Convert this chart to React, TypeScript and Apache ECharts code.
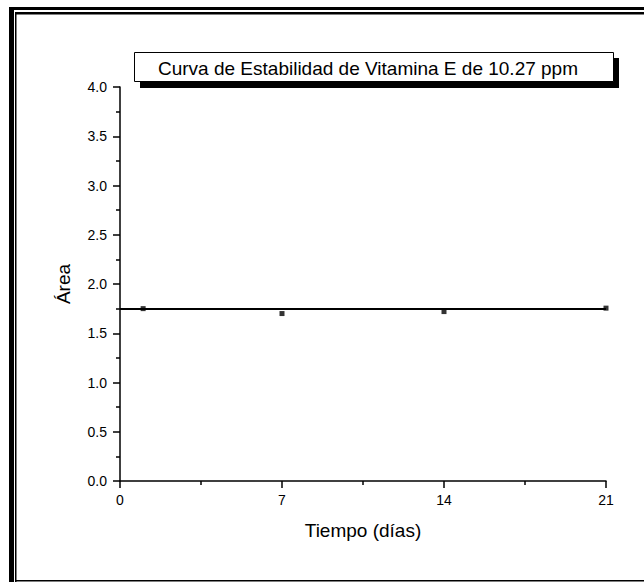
import React, { useEffect, useRef } from "react";
import * as echarts from "echarts";

const titleText = "Curva de Estabilidad de Vitamina E de 10.27 ppm";
const xAxisName = "Tiempo (días)";
const yAxisName = "Área";
const days = [1, 7, 14, 21];
const area = [1.75, 1.7, 1.72, 1.755];
const fitDays = [0, 21];
const fitArea = [1.745, 1.745];

const FONT = "'Liberation Sans', Arial, sans-serif";

export default function App() {
  const ref = useRef<HTMLDivElement>(null);
  useEffect(() => {
    if (!ref.current) return;
    const chart = echarts.init(ref.current, undefined, { renderer: "svg" });
    const option = {
      animation: false,
      backgroundColor: "#ffffff",
      textStyle: { fontFamily: FONT },
      grid: { left: 120, top: 87, width: 486, height: 394, containLabel: false },
      xAxis: {
        type: "value",
        min: 0,
        max: 21,
        interval: 7,
        name: xAxisName,
        nameLocation: "middle",
        nameGap: 40,
        nameTextStyle: { fontSize: 19, color: "#000", fontFamily: FONT },
        axisLine: { show: true, onZero: false, lineStyle: { color: "#000", width: 1.5 } },
        axisTick: { show: true, inside: false, length: 7, lineStyle: { color: "#000", width: 1.5 } },
        minorTick: { show: true, splitNumber: 2, length: 4, lineStyle: { color: "#000", width: 1.5 } },
        axisLabel: { fontSize: 14, color: "#000", margin: 12, fontFamily: FONT },
        splitLine: { show: false },
      },
      yAxis: {
        type: "value",
        min: 0,
        max: 4,
        interval: 0.5,
        name: yAxisName,
        nameLocation: "middle",
        nameRotate: 90,
        nameGap: 47,
        nameTextStyle: { fontSize: 19, color: "#000", fontFamily: FONT },
        axisLine: { show: true, onZero: false, lineStyle: { color: "#000", width: 1.5 } },
        axisTick: { show: true, inside: false, length: 7, lineStyle: { color: "#000", width: 1.5 } },
        minorTick: { show: true, splitNumber: 2, length: 4, lineStyle: { color: "#000", width: 1.5 } },
        axisLabel: {
          fontSize: 14,
          color: "#000",
          margin: 13,
          fontFamily: FONT,
          formatter: (v: number) => v.toFixed(1),
        },
        splitLine: { show: false },
      },
      series: [
        {
          type: "line",
          data: fitDays.map((d, i) => [d, fitArea[i]]),
          showSymbol: false,
          symbol: "none",
          lineStyle: { color: "#000", width: 2 },
          z: 2,
        },
        {
          type: "scatter",
          data: days.map((d, i) => [d, area[i]]),
          symbol: "rect",
          symbolSize: 5,
          itemStyle: { color: "#000" },
          z: 3,
        },
      ],
      graphic: [
        { type: "rect", shape: { x: 9, y: 7, width: 5, height: 575 }, style: { fill: "#000" } },
        { type: "rect", shape: { x: 9, y: 7, width: 635, height: 3 }, style: { fill: "#000" } },
        { type: "rect", shape: { x: 15, y: 12, width: 629, height: 2.5 }, style: { fill: "#000" } },
        { type: "rect", shape: { x: 15, y: 12, width: 1.5, height: 570 }, style: { fill: "#000" } },
        { type: "rect", shape: { x: 15, y: 580, width: 629, height: 1.5 }, style: { fill: "#000" } },
        { type: "rect", shape: { x: 140, y: 58, width: 479, height: 30 }, style: { fill: "#000" } },
        {
          type: "rect",
          shape: { x: 134.5, y: 52.5, width: 479, height: 29 },
          style: { fill: "#fff", stroke: "#000", lineWidth: 1 },
        },
        {
          type: "text",
          x: 368,
          y: 68,
          style: {
            text: titleText,
            fill: "#000",
            fontSize: 19,
            fontFamily: FONT,
            align: "center",
            verticalAlign: "middle",
          },
        },
      ],
    };
    chart.setOption(option as any);
    return () => chart.dispose();
  }, []);
  return (
    <div
      ref={ref}
      style={{ position: "fixed", left: 0, top: 0, width: 644, height: 582, background: "#fff" }}
    />
  );
}
